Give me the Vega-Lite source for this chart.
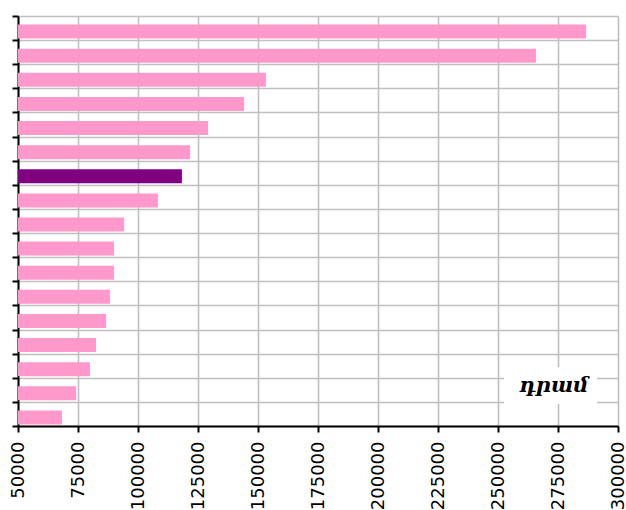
{
  "$schema": "https://vega.github.io/schema/vega-lite/v6.json",
  "width": 600,
  "height": 410,
  "autosize": {"type": "none"},
  "padding": {"left": 18, "top": 16, "right": 8, "bottom": 84},
  "background": "white",
  "config": {
    "view": {"stroke": null},
    "axis": {"gridColor": "#C0C0C0", "gridWidth": 1.6, "gridOpacity": 1, "domainColor": "#000000", "domainWidth": 2, "tickColor": "#000000", "tickWidth": 2, "tickSize": 6, "titleFontSize": 0}
  },
  "data": {
    "values": [
      {"rank": "1", "value": 286700, "hl": false, "series": "դրամ"},
      {"rank": "2", "value": 265800, "hl": false, "series": "դրամ"},
      {"rank": "3", "value": 153300, "hl": false, "series": "դրամ"},
      {"rank": "4", "value": 144200, "hl": false, "series": "դրամ"},
      {"rank": "5", "value": 129200, "hl": false, "series": "դրամ"},
      {"rank": "6", "value": 121700, "hl": false, "series": "դրամ"},
      {"rank": "7", "value": 118300, "hl": true, "series": "դրամ"},
      {"rank": "8", "value": 108300, "hl": false, "series": "դրամ"},
      {"rank": "9", "value": 94200, "hl": false, "series": "դրամ"},
      {"rank": "10", "value": 90000, "hl": false, "series": "դրամ"},
      {"rank": "11", "value": 90000, "hl": false, "series": "դրամ"},
      {"rank": "12", "value": 88300, "hl": false, "series": "դրամ"},
      {"rank": "13", "value": 86700, "hl": false, "series": "դրամ"},
      {"rank": "14", "value": 82500, "hl": false, "series": "դրամ"},
      {"rank": "15", "value": 80000, "hl": false, "series": "դրամ"},
      {"rank": "16", "value": 74200, "hl": false, "series": "դրամ"},
      {"rank": "17", "value": 68300, "hl": false, "series": "դրամ"}
    ]
  },
  "mark": {"type": "bar", "height": {"band": 0.58}, "yOffset": 3.5, "clip": true},
  "encoding": {
    "y": {
      "field": "rank",
      "type": "nominal",
      "sort": null,
      "scale": {"paddingInner": 0, "paddingOuter": 0},
      "axis": {"title": null, "labels": false, "tickBand": "extent", "grid": true}
    },
    "x": {
      "field": "value",
      "type": "quantitative",
      "scale": {"domain": [50000, 300000], "nice": false, "zero": false},
      "axis": {
        "title": null,
        "values": [50000, 75000, 100000, 125000, 150000, 175000, 200000, 225000, 250000, 275000, 300000],
        "format": "d",
        "labelAngle": 270,
        "labelAlign": "right",
        "labelBaseline": "middle",
        "labelFont": "DejaVu Sans",
        "labelFontSize": 18,
        "labelColor": "#000000",
        "labelPadding": 9,
        "labelOverlap": false,
        "labelFlush": false,
        "grid": true
      }
    },
    "color": {
      "condition": {"test": "datum.hl", "value": "#800080"},
      "field": "series",
      "type": "nominal",
      "scale": {"range": ["#FF99CC"]},
      "legend": {
        "title": null,
        "orient": "none",
        "legendX": 486,
        "legendY": 351,
        "fillColor": "white",
        "strokeColor": null,
        "padding": 8,
        "symbolSize": 1,
        "symbolOpacity": 0,
        "symbolStrokeWidth": 0,
        "labelOffset": -14,
        "labelAlign": "left",
        "labelFont": "DejaVu Serif",
        "labelFontStyle": "italic",
        "labelFontWeight": "bold",
        "labelFontSize": 21,
        "labelColor": "#000000"
      }
    }
  }
}
